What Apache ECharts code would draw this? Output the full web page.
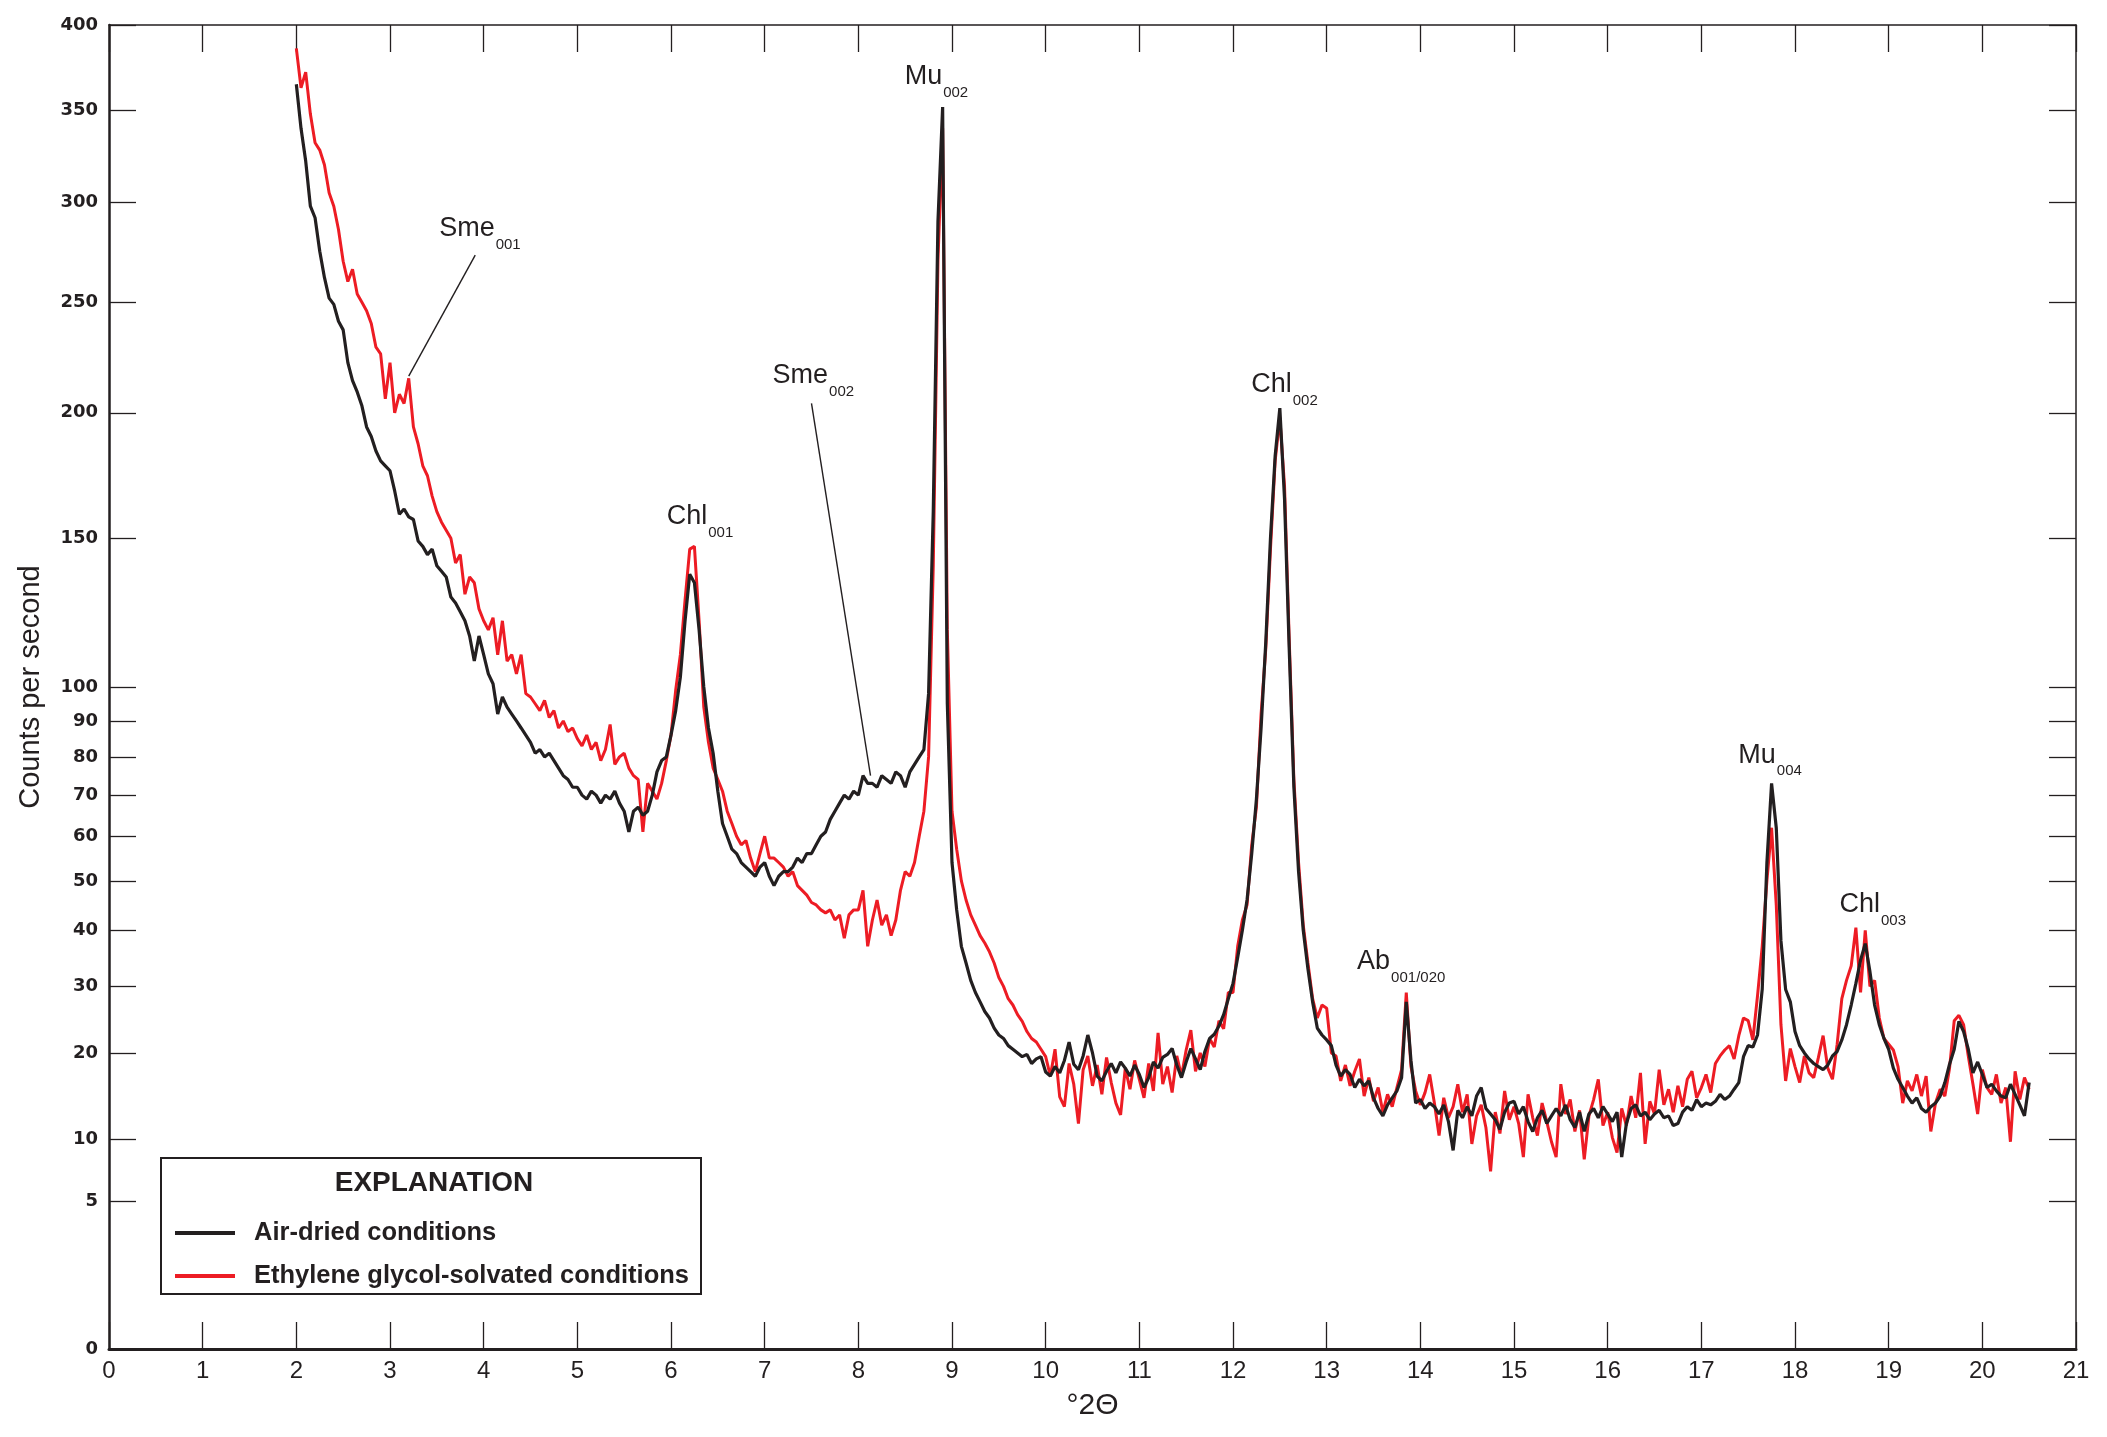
<!DOCTYPE html>
<html>
<head>
<meta charset="utf-8">
<title>XRD pattern</title>
<script src="https://cdn.jsdelivr.net/npm/echarts@6.0.0/dist/echarts.min.js"></script>
<style>
  html, body { margin: 0; padding: 0; background: #fff; }
  #chart { width: 2107px; height: 1437px; }
</style>
</head>
<body>
<div id="chart"></div>
<script>
// 2-theta sampling of the scans (degrees)
const X_START = 2.0;
const X_STEP = 0.05;

// counts per second, air-dried, one row per degree
const airDried = [
  365, 340, 322, 298, 292, 275, 262, 252, 249, 241, 237, 222, 214, 209, 203, 194, 190, 184, 180, 178,
  176, 168, 159, 161, 158, 157, 149, 147, 144, 146, 140, 138, 136, 129, 127, 124, 121, 116, 108, 116,
  110, 104, 101, 92, 97, 94, 92, 90, 88, 86, 84, 81, 82, 80, 81, 79, 77, 75, 74, 72,
  72, 70, 69, 71, 70, 68, 70, 69, 71, 68, 66, 61, 66, 67, 65, 66, 70, 76, 79, 80,
  86, 93, 103, 121, 137, 134, 118, 100, 88, 81, 71, 63, 60, 57, 56, 54, 53, 52, 51, 53,
  54, 51, 49, 51, 52, 52, 53, 55, 54, 56, 56, 58, 60, 61, 64, 66, 68, 70, 69, 71,
  70, 75, 73, 73, 72, 75, 74, 73, 76, 75, 72, 76, 78, 80, 82, 98, 160, 290, 352, 95,
  54, 44, 37, 34, 31, 29, 27.5, 26, 25, 23.5, 22.5, 22, 21, 20.5, 20, 19.5, 19.8, 18.6, 19.2, 19.5,
  17.5, 17, 18.2, 17.4, 19, 21.5, 18.5, 17.8, 19.6, 22.5, 20, 17, 16.4, 17.6, 18.6, 17.4, 18.8, 18, 17, 18.4,
  17.2, 15.6, 16.8, 18.8, 18, 19.4, 19.8, 20.6, 18.4, 16.8, 18.8, 20.6, 19.2, 17.8, 20.2, 22, 22.6, 23.8, 25.5, 28,
  30.5, 35, 40, 46, 56, 69, 88, 114, 150, 182, 202, 165, 112, 72, 52, 40, 33, 27.5, 23.5, 22.5,
  21.8, 21, 18.4, 17, 17.8, 17.2, 15.6, 16.6, 15.8, 16.4, 14.4, 13.2, 12.4, 13.6, 14.4, 15.2, 16.8, 27.5, 19, 13.8,
  14.2, 13.2, 13.8, 13.4, 12.6, 13.6, 11.8, 9, 13, 12.2, 13.4, 12.4, 14.6, 15.6, 13.2, 12.6, 12, 11, 12.8, 13.8,
  14, 12.6, 13.4, 11.8, 10.8, 12.2, 13, 11.6, 12.4, 13.2, 12.4, 13.6, 12, 11.2, 12.8, 10.8, 12.6, 13.2, 12.2, 13.4,
  12.6, 11.8, 12.8, 8.4, 11.6, 13.2, 13.6, 12.4, 12.8, 12, 12.6, 13, 12.2, 12.4, 11.4, 11.6, 12.8, 13.4, 13, 14.2,
  13.4, 13.8, 13.6, 14, 14.8, 14.2, 14.6, 15.4, 16.2, 19.5, 21, 20.8, 22.5, 29.5, 54, 73, 62, 38, 29.5, 27.5,
  23, 21, 20, 19.2, 18.6, 18.2, 17.8, 18.4, 19.6, 20.2, 21.8, 24, 27, 30.5, 34.5, 37.5, 32.5, 27, 24, 22,
  20.5, 18, 16.6, 15.6, 14.6, 13.8, 14.4, 13.2, 12.8, 13.4, 13.8, 14.6, 16.2, 18.5, 20.5, 24.5, 23, 20.5, 17.4, 18.8,
  17.2, 15.6, 16, 15.2, 14.6, 14.4, 16, 14.8, 13.6, 12.4, 16.2
];

// counts per second, ethylene glycol-solvated
const glycol = [
  386, 363, 372, 348, 332, 328, 320, 305, 298, 286, 270, 260, 266, 254, 250, 246, 240, 229, 226, 206,
  222, 200, 208, 204, 215, 194, 187, 178, 174, 166, 160, 156, 153, 150, 141, 144, 130, 136, 134, 125,
  121, 118, 122, 110, 121, 108, 110, 104, 110, 98, 97, 95, 93, 96, 91, 93, 88, 90, 87, 88,
  85, 83, 86, 82, 84, 79, 82, 89, 78, 80, 81, 77, 75, 74, 61, 73, 71, 69, 73, 79,
  86, 99, 110, 128, 146, 147, 121, 94, 84, 77, 74, 71, 66, 63, 60, 58, 59, 55, 52, 56,
  60, 55, 55, 54, 53, 51, 52, 49, 48, 47, 45.5, 45, 44, 43.4, 44, 42, 43, 38.5, 43, 44,
  44, 48, 37, 42, 46, 41, 43, 39, 42, 48, 52, 51, 54, 60, 66, 80, 140, 270, 340, 118,
  66, 57, 50, 46, 43, 41, 39, 37.6, 36, 34, 31.5, 30, 28, 27, 25.5, 24.5, 23, 22, 21.5, 20.5,
  19.5, 17, 20.5, 14.5, 13.4, 18.6, 16, 11.6, 17.8, 19.6, 15.8, 18.4, 14.8, 19.4, 16.2, 13.8, 12.5, 18, 15.4, 19,
  16.6, 14.4, 18.6, 15.2, 22.8, 16, 18.2, 15, 19.6, 17, 20.4, 23.2, 17.6, 20, 18.2, 22, 20.8, 24.6, 23.4, 29,
  29, 37, 42, 45, 58, 67, 92, 112, 146, 180, 198, 170, 115, 74, 54, 41, 34, 28, 25, 27,
  26.5, 20, 19.6, 16.4, 18.4, 15.8, 17.6, 19.2, 14.6, 16.8, 14, 15.6, 12.8, 14.8, 13.4, 15.6, 17.8, 29, 18.2, 15.2,
  13.6, 15, 17.2, 13.8, 10.4, 14.4, 12.2, 13.4, 16, 12.8, 14.8, 9.6, 12.4, 13.6, 11.2, 7.2, 12.8, 10.6, 15.2, 12,
  13.4, 11.6, 8.4, 14.8, 12.2, 10.4, 13.8, 11.8, 9.8, 8.4, 16, 12.6, 14.2, 10.8, 13, 8.2, 12.4, 14.2, 16.6, 11.4,
  12.8, 10.2, 8.8, 13.2, 11.4, 14.6, 12.2, 17.4, 9.6, 14, 12.6, 17.8, 13.6, 15.4, 12.8, 15.8, 13.4, 16.6, 17.6, 14.4,
  15.6, 17.2, 15, 18.6, 19.6, 20.4, 21, 19.2, 22.4, 25, 24.6, 21.8, 28.5, 37, 50, 62, 45, 24, 16.4, 20.6,
  18.2, 16.2, 19.6, 17.4, 16.8, 19.4, 22.4, 18, 16.6, 21.2, 28, 31, 33.5, 40.5, 29, 40, 30, 31, 25, 22,
  21.2, 20.4, 18.2, 13.8, 16.4, 15.2, 17.2, 14.6, 17, 10.8, 13.8, 15.4, 14.6, 18, 24.6, 25.4, 24, 19.6, 16, 12.6,
  17.8, 15.6, 14.8, 17.2, 13.8, 15.6, 9.8, 17.6, 14.2, 16.8, 15.4
];

// square-root count axis
const yTicks = [0, 5, 10, 20, 30, 40, 50, 60, 70, 80, 90, 100, 150, 200, 250, 300, 350, 400];

// peak labels (x in degrees, y in counts = top left of the label)
const annotations = [
  { name: 'Sme', sub: '001', x: 3.53, y: 293 },
  { name: 'Sme', sub: '002', x: 7.09, y: 222 },
  { name: 'Chl', sub: '001', x: 5.96, y: 163 },
  { name: 'Mu', sub: '002', x: 8.50, y: 377 },
  { name: 'Chl', sub: '002', x: 12.20, y: 218 },
  { name: 'Ab', sub: '001/020', x: 13.33, y: 36.6 },
  { name: 'Mu', sub: '004', x: 17.40, y: 84 },
  { name: 'Chl', sub: '003', x: 18.48, y: 47.7 }
];

// leader lines from label to curve
const leaders = [
  { x1: 3.91, y1: 273, x2: 3.20, y2: 216 },
  { x1: 7.50, y1: 204, x2: 8.13, y2: 75 }
];

const INK = '#231f20';
const RED = '#ed1c24';
const SANS = '"Liberation Sans", Arial, sans-serif';

const sq = v => Math.sqrt(v);
const toPoints = arr => arr.map((v, i) => [+(X_START + i * X_STEP).toFixed(2), sq(v)]);
const yTickPos = yTicks.map(sq);

const chart = echarts.init(document.getElementById('chart'), null, { renderer: 'canvas' });

const tickStyle = { color: INK, width: 1.3 };

const option = {
  animation: false,
  backgroundColor: '#fff',
  grid: { left: 109, right: 31, top: 25, bottom: 88 },
  legend: {
    data: ['Air-dried conditions', 'Ethylene glycol-solvated conditions'],
    orient: 'vertical',
    left: 175,
    top: 1219,
    icon: 'rect',
    itemWidth: 60,
    itemHeight: 4,
    itemGap: 15,
    padding: 0,
    selectedMode: false,
    textStyle: {
      fontFamily: SANS,
      fontWeight: 'bold',
      fontSize: 25.5,
      lineHeight: 28,
      color: INK,
      padding: [0, 0, 0, 14]
    }
  },
  graphic: [
    {
      type: 'rect',
      shape: { x: 161, y: 1158, width: 540, height: 136 },
      style: { fill: '#fff', stroke: INK, lineWidth: 2 },
      silent: true
    },
    {
      type: 'text',
      style: {
        x: 434, y: 1183,
        text: 'EXPLANATION',
        align: 'center',
        verticalAlign: 'middle',
        font: 'bold 28px "Liberation Sans", Arial, sans-serif',
        fill: INK
      },
      silent: true
    }
  ],
  xAxis: [
    {
      type: 'value',
      min: 0, max: 21, interval: 1,
      position: 'bottom',
      axisLine: { onZero: false, lineStyle: { color: INK, width: 3 } },
      axisTick: { inside: true, length: 27, lineStyle: tickStyle },
      axisLabel: { color: INK, fontFamily: SANS, fontSize: 24, margin: 10 },
      splitLine: { show: false },
      name: '°2Θ',
      nameLocation: 'middle',
      nameGap: 42,
      nameTextStyle: { color: INK, fontFamily: SANS, fontSize: 30 }
    },
    {
      type: 'value',
      min: 0, max: 21, interval: 1,
      position: 'top',
      axisLine: { onZero: false, lineStyle: { color: INK, width: 1.5 } },
      axisTick: { inside: true, length: 27, lineStyle: tickStyle },
      axisLabel: { show: false },
      splitLine: { show: false }
    }
  ],
  yAxis: [
    {
      type: 'value',
      min: 0, max: 20,
      position: 'left',
      axisLine: { show: true, onZero: false, lineStyle: { color: INK, width: 2.5 } },
      axisTick: { show: true, inside: true, length: 27, customValues: yTickPos, lineStyle: tickStyle },
      axisLabel: {
        customValues: yTickPos,
        formatter: v => String(Math.round(v * v)),
        color: INK,
        fontFamily: '"DejaVu Sans", sans-serif',
        fontWeight: 'bold',
        fontSize: 18,
        margin: 11
      },
      splitLine: { show: false },
      name: 'Counts per second',
      nameLocation: 'middle',
      nameGap: 64,
      nameTextStyle: { color: INK, fontFamily: SANS, fontSize: 29 }
    },
    {
      type: 'value',
      min: 0, max: 20,
      position: 'right',
      axisLine: { show: true, onZero: false, lineStyle: { color: INK, width: 1.5 } },
      axisTick: { show: true, inside: true, length: 27, customValues: yTickPos, lineStyle: tickStyle },
      axisLabel: { show: false },
      splitLine: { show: false }
    }
  ],
  series: [
    {
      name: 'Ethylene glycol-solvated conditions',
      type: 'line',
      data: toPoints(glycol),
      showSymbol: false,
      symbol: 'none',
      itemStyle: { color: RED },
      lineStyle: { color: RED, width: 3 },
      z: 2
    },
    {
      name: 'Air-dried conditions',
      type: 'line',
      data: toPoints(airDried),
      showSymbol: false,
      symbol: 'none',
      itemStyle: { color: INK },
      lineStyle: { color: INK, width: 3.2 },
      z: 3
    },
    {
      name: 'peaks',
      type: 'scatter',
      data: annotations.map(a => ({ value: [a.x, sq(a.y)], name: a.name, sub: a.sub })),
      symbolSize: 1,
      itemStyle: { color: '#fff', opacity: 1 },
      silent: true,
      z: 4,
      label: {
        show: true,
        position: [0, 0],
        align: 'left',
        verticalAlign: 'top',
        color: INK,
        opacity: 1,
        formatter: p => `{b|${p.data.name}}{s|${p.data.sub}}`,
        rich: {
          b: { fontFamily: SANS, fontSize: 27, lineHeight: 30, color: INK, verticalAlign: 'top' },
          s: { fontFamily: SANS, fontSize: 15, lineHeight: 16, color: INK, verticalAlign: 'top', padding: [22, 0, 0, 1] }
        }
      },
      markLine: {
        silent: true,
        symbol: ['none', 'none'],
        label: { show: false },
        lineStyle: { color: INK, width: 1.4, type: 'solid', opacity: 1 },
        data: leaders.map(l => [
          { coord: [l.x1, sq(l.y1)] },
          { coord: [l.x2, sq(l.y2)] }
        ])
      }
    }
  ]
};

chart.setOption(option);
</script>
</body>
</html>
